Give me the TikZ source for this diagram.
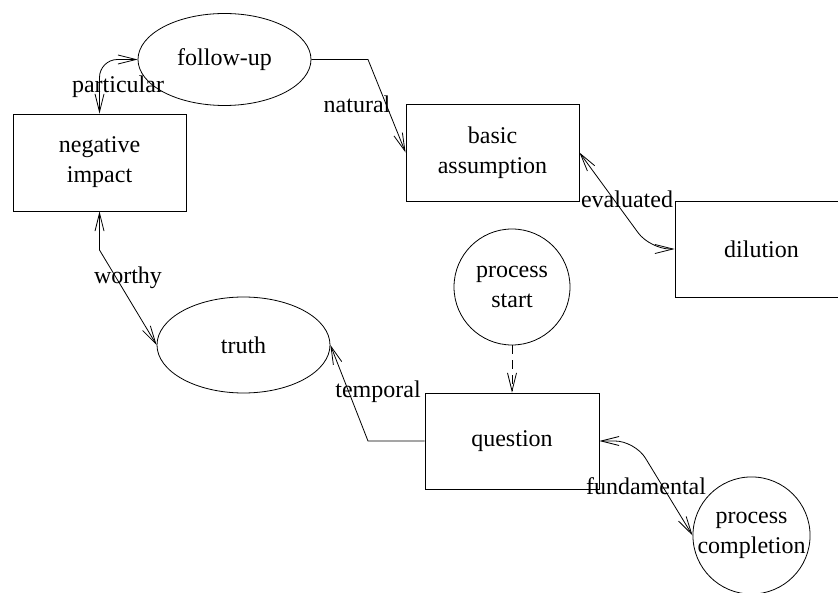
\documentclass[tikz,border=0pt]{standalone}
\usepackage{fontspec}
\setmainfont{Liberation Serif}
\usetikzlibrary{arrows.meta,shapes.geometric}
\begin{document}
\begin{tikzpicture}[x=1pt,y=-1pt,
  every node/.style={font=\fontsize{24}{30}\selectfont},
  box/.style={draw, line width=0.9pt, rectangle, minimum width=173pt, minimum height=97pt, align=center, inner sep=0pt},
  oval/.style={draw, line width=0.8pt, ellipse, minimum width=173pt, minimum height=92pt, inner sep=0pt},
  circ/.style={draw, line width=0.8pt, circle, minimum size=116pt, align=center, inner sep=0pt},
  lbl/.style={inner sep=0pt},
  tip/.style={Straight Barb[length=18pt,width=9pt]},
  link/.style={line width=0.8pt, -{Straight Barb[length=18pt,width=9pt]}},
  dlink/.style={line width=0.8pt, {Straight Barb[length=18pt,width=9pt]}-{Straight Barb[length=18pt,width=9pt]}},
]
\useasboundingbox (0,0) rectangle (838,593);

\node[oval] (follow) at (224.5,59.5) {follow-up};
\node[box] (neg) at (99.5,162.5) {negative\\impact};
\node[box] (basic) at (492.5,152.5) {basic\\assumption};
\node[box, minimum height=96pt] (dil) at (761.5,249) {dilution};
\node[circ] (start) at (512,287) {process\\start};
\node[oval, minimum height=96pt] (truth) at (243.5,345) {truth};
\node[box, minimum width=174pt, minimum height=96pt] (quest) at (512,441) {question};
\node[circ] (comp) at (751.5,535.5) {process\\completion};

\coordinate (c1) at (99.5,59.5);
\coordinate (c2) at (368,59.5);
\coordinate (c3) at (650,249);
\coordinate (c4) at (99.5,250);
\coordinate (c5) at (368,441);
\coordinate (c6) at (635,441);

\draw[dlink, rounded corners=18pt] (neg.north) -- (c1) -- (follow.west);
\draw[link] (follow.east) -- (c2) -- (basic.west);
\draw[dlink, rounded corners=20pt] (basic.east) -- (c3) -- (dil.west);
\draw[dlink] (neg.south) -- (c4) -- (truth.west);
\draw[link] (quest.west) -- (c5) -- (truth.east);
\draw[link, dash pattern=on 9pt off 6pt] (start.south) -- (quest.north);
\draw[dlink, rounded corners=20pt] (quest.east) -- (c6) -- (comp.west);

\node[lbl] (lpart) at (118,86.5) {particular};
\node[lbl] (lnat) at (357,104) {natural};
\node[lbl] (leval) at (627,199) {evaluated};
\node[lbl] (lworth) at (128,277.5) {worthy};
\node[lbl] (ltemp) at (378,391.5) {temporal};
\node[lbl] (lfund) at (646,486.5) {fundamental};
\end{tikzpicture}
\end{document}
